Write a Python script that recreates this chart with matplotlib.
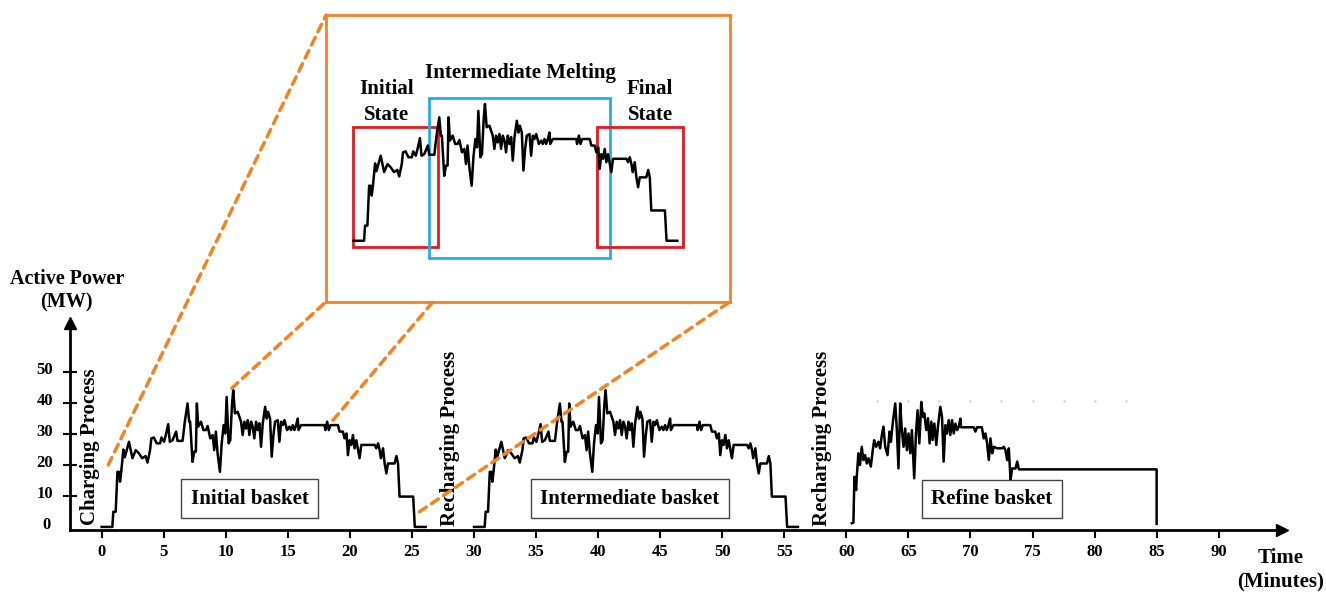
import numpy as np
import matplotlib.pyplot as plt
from matplotlib.patches import Rectangle, ConnectionPatch
from matplotlib import transforms

plt.rcParams['font.family'] = ['Liberation Serif', 'DejaVu Serif']
plt.rcParams['font.weight'] = 'bold'

# power profile of one basket (minutes from basket start, MW)
basket_t = [0.0, 0.86, 0.94, 1.13, 1.27, 1.40, 1.48, 1.59, 1.75, 1.86, 2.00, 2.20, 2.34, 2.48,
            2.75, 3.00, 3.27, 3.54, 3.69, 3.90, 4.00, 4.20, 4.44, 4.71, 4.82, 5.03, 5.20, 5.36,
            5.49, 5.71, 6.00, 6.11, 6.52, 6.70, 6.92, 7.05, 7.13, 7.32, 7.46, 7.59, 7.67, 7.78,
            8.00, 8.20, 8.40, 8.54, 8.75, 8.94, 9.07, 9.20, 9.34, 9.53, 9.67, 9.83, 9.96, 10.07,
            10.23, 10.36, 10.50, 10.60, 10.74, 10.96, 11.10, 11.23, 11.36, 11.50, 11.63, 11.77,
            11.90, 12.04, 12.17, 12.30, 12.44, 12.57, 12.71, 12.84, 12.98, 13.17, 13.30, 13.41,
            13.57, 13.70, 13.84, 13.97, 14.19, 14.32, 14.46, 14.59, 14.73, 14.94, 15.13, 15.26,
            15.40, 15.53, 15.67, 15.80, 15.86, 16.07, 17.96, 18.02, 18.17, 18.30, 18.44, 19.04,
            19.17, 19.44, 19.57, 19.73, 19.84, 19.98, 20.11, 20.25, 20.38, 20.52, 20.78, 20.92,
            22.00, 22.13, 22.27, 22.40, 22.50, 22.67, 22.80, 22.94, 23.07, 23.60, 23.75, 23.88,
            24.00, 25.10, 25.23, 26.10]
basket_mw = [0, 0, 4.9, 4.9, 17.8, 17.8, 14.6, 18.4, 25.0, 22.5, 24.5, 27.5, 24.8, 22.2,
             24.8, 23.8, 22.2, 22.9, 20.8, 24.8, 28.6, 28.9, 27.0, 27.0, 28.9, 27.5, 30.2, 33.2,
             27.5, 28.0, 30.8, 27.8, 27.8, 34.0, 39.9, 34.0, 34.0, 21.0, 24.3, 24.3, 39.9, 32.4,
             34.0, 31.3, 31.3, 32.6, 28.6, 29.7, 24.8, 30.8, 23.8, 17.8, 27.0, 32.9, 30.2, 42.0,
             27.0, 28.0, 39.4, 44.2, 36.7, 37.2, 35.5, 34.0, 29.7, 34.0, 31.8, 34.5,
             29.7, 34.0, 32.4, 28.6, 34.0, 31.3, 33.5, 25.9, 33.5, 38.8, 35.0, 37.2,
             35.0, 22.7, 29.7, 34.0, 34.5, 27.5, 34.0, 32.9, 34.5, 31.3, 32.4, 31.3,
             32.9, 31.3, 32.9, 35.0, 31.3, 32.9, 32.9, 31.3, 34.0, 31.3, 32.9, 32.9,
             30.8, 30.8, 28.6, 30.2, 23.2, 28.0, 26.5, 29.7, 25.4, 28.0, 22.2, 26.5,
             26.5, 25.4, 27.0, 24.8, 22.2, 25.4, 20.5, 17.3, 20.5, 20.5, 22.9, 20.5,
             9.8, 9.8, 0, 0]
basket_starts = [0, 30]   # initial and intermediate basket follow the same profile

refine_t = [60.44, 60.57, 60.65, 60.79, 60.84, 60.97, 61.10, 61.24, 61.38, 61.51, 61.65,
            61.78, 61.97, 62.13, 62.24, 62.40, 62.59, 62.72, 62.86, 62.99, 63.13, 63.32,
            63.48, 63.59, 63.75, 63.94, 64.07, 64.20, 64.34, 64.47, 64.61, 64.74, 64.88,
            65.01, 65.15, 65.28, 65.47, 65.61, 65.74, 65.88, 66.04, 66.17, 66.28, 66.44,
            66.58, 66.71, 66.85, 66.95, 67.09, 67.25, 67.38, 67.57, 67.71, 67.84, 67.98,
            68.11, 68.25, 68.38, 68.52, 68.65, 68.79, 68.92, 69.06, 69.19, 69.24, 70.26,
            70.40, 70.53, 70.92, 71.07, 71.21, 71.34, 71.48, 71.61, 71.75, 71.88, 72.15,
            72.55, 72.69, 72.82, 72.96, 73.09, 73.23, 73.36, 73.63, 73.77, 73.90, 85.0, 85.0]
refine_mw = [1.2, 1.4, 16.2, 11.9, 16.2, 23.8, 20.0, 25.9, 21.6, 23.2, 20.5,
             22.2, 19.5, 24.8, 28.0, 25.9, 27.5, 25.4, 29.7, 32.4, 25.9, 23.2,
             30.8, 27.5, 34.0, 39.9, 31.3, 18.9, 39.9, 31.3, 25.9, 31.8, 24.8,
             30.2, 23.8, 31.3, 15.7, 30.2, 37.7, 27.0, 40.4, 35.6, 36.7, 31.3,
             35.1, 27.0, 34.0, 28.1, 33.4, 26.5, 32.4, 38.8, 35.6, 21.1, 32.9,
             30.2, 34.5, 29.7, 34.5, 30.2, 33.4, 31.3, 32.4, 35.0, 32.2, 32.2,
             30.8, 32.2, 32.2, 28.6, 30.2, 27.0, 21.6, 28.6, 23.8, 25.9, 25.4,
             25.4, 25.9, 24.8, 21.6, 25.4, 15.2, 18.9, 18.9, 21.1, 18.6, 18.6, 1.0]

x_ticks = list(range(0, 95, 5))
y_ticks = [10, 20, 30, 40, 50]

# faint dotted remnants above the refine basket
dot_t = [62.5, 65, 67.5, 70, 72.5, 75, 77.5, 80, 82.5]
dot_level = 40.8

fig = plt.figure(figsize=(13.26, 5.92), dpi=100)
ax = fig.add_axes([0.0528, 0.1047, 0.914, 0.3497])

for s in basket_starts:
    ax.plot(np.array(basket_t) + s, basket_mw, color='black', lw=1.8)
ax.plot(refine_t, refine_mw, color='black', lw=1.8)
ax.plot(dot_t, [dot_level] * len(dot_t), ls='none', marker='.', ms=2, color='#d9d9d9')

ax.set_xlim(-2.55, 95.1)
ax.set_ylim(-1, 65.9)
for side in ['top', 'right']:
    ax.spines[side].set_visible(False)
ax.spines['left'].set_linewidth(2)
ax.spines['bottom'].set_linewidth(2)
ax.plot(1, 0, '>k', transform=ax.transAxes, clip_on=False, ms=9)
ax.plot(0, 1, '^k', transform=ax.transAxes, clip_on=False, ms=9)

ax.set_xticks(x_ticks)
ax.tick_params(axis='x', direction='out', length=6, width=1.5, labelsize=12, pad=4)
ax.set_yticks(y_ticks)
ax.set_yticks([0], minor=True)
ax.set_yticklabels(['0'], minor=True)
ax.tick_params(axis='y', which='major', direction='inout', length=10, width=1.5,
               labelsize=12, pad=7)
ax.tick_params(axis='y', which='minor', length=0, labelsize=12, pad=14)
shift = transforms.ScaledTranslation(0, 0.04, fig.dpi_scale_trans)
for lab in ax.get_yticklabels() + ax.get_yticklabels(minor=True):
    lab.set_transform(lab.get_transform() + shift)

box = dict(boxstyle='square,pad=0.45', fc='white', ec='#444444', lw=1)
ax.text(11.91, 9.1, 'Initial basket', ha='center', va='center', fontsize=15, bbox=box)
ax.text(42.53, 9.1, 'Intermediate basket', ha='center', va='center', fontsize=15, bbox=box)
ax.text(71.7, 9.0, 'Refine basket', ha='center', va='center', fontsize=15, bbox=box)

ax.text(-0.94, 25.9, 'Charging Process', rotation=90, ha='center', va='center', fontsize=15)
ax.text(28.07, 28.6, 'Recharging Process', rotation=90, ha='center', va='center', fontsize=15)
ax.text(58.0, 28.6, 'Recharging Process', rotation=90, ha='center', va='center', fontsize=15)

fig.text(0.0503, 0.509, 'Active Power\n(MW)', ha='center', va='center', fontsize=14.5,
         linespacing=1.2)
fig.text(0.966, 0.038, 'Time\n(Minutes)', ha='center', va='center', fontsize=15,
         linespacing=1.2)

# zoomed view of the first basket
orange = '#F58220'
ins = fig.add_axes([0.2459, 0.4904, 0.3047, 0.4843])
ins.plot(basket_t, basket_mw, color='black', lw=1.8)
ins.set_xlim(-2.2, 30.35)
ins.set_ylim(-19.7, 73)
ins.set_xticks([])
ins.set_yticks([])
for sp in ins.spines.values():
    sp.set_color(orange)
    sp.set_linewidth(2)

red = '#E8161E'
blue = '#22AEEA'
ins.add_patch(Rectangle((-0.05, -2.1), 6.9, 39.0, fill=False, ec=red, lw=2))
ins.add_patch(Rectangle((6.08, -5.7), 14.61, 51.8, fill=False, ec=blue, lw=2))
ins.add_patch(Rectangle((19.64, -2.1), 6.9, 39.0, fill=False, ec=red, lw=2))
ins.text(2.69, 44.9, 'Initial\nState', ha='center', va='center', fontsize=15, linespacing=1.45)
ins.text(13.43, 54.2, 'Intermediate Melting', ha='center', va='center', fontsize=15)
ins.text(23.91, 44.9, 'Final\nState', ha='center', va='center', fontsize=15, linespacing=1.45)

links = [((0.53, 20.0), (0, 1)), ((10.48, 44.8), (0, 0)),
         ((18.64, 34.5), (0.265, 0)), ((25.6, 4.9), (1, 0))]
for a, b in links:
    con = ConnectionPatch(xyA=a, coordsA=ax.transData, xyB=b, coordsB=ins.transAxes,
                          color=orange, lw=2.5, ls=(0, (2.4, 1.8)))
    fig.add_artist(con)

fig.savefig('out.png', dpi=100)
